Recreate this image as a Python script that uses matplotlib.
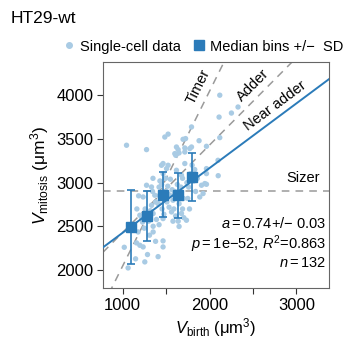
import numpy as np
import matplotlib.pyplot as plt
from matplotlib.lines import Line2D

plt.rcParams['font.family'] = 'Liberation Sans'
plt.rcParams['mathtext.fontset'] = 'custom'
plt.rcParams['mathtext.rm'] = 'Liberation Sans'
plt.rcParams['mathtext.it'] = 'Liberation Sans:italic'

# single-cell data (V_birth, V_mitosis)
vb = [1046, 1020, 1064, 1161, 1199, 1179, 1199, 1135, 1100, 1165, 1185, 1150,
      1237, 1256, 1287, 1276, 1276, 1333, 1371, 1237, 1333, 1352, 1352, 1352,
      1220, 1300, 1260, 1320, 1290, 1250, 1380, 1310, 1230, 1390, 1345, 1380,
      1409, 1466, 1466, 1448, 1506, 1486, 1524, 1466, 1524, 1466, 1466, 1420,
      1440, 1480, 1500, 1510, 1455, 1430, 1495, 1540, 1520, 1410, 1475, 1535,
      1450, 1490, 1425, 1515, 1550, 1420, 1350,
      1563, 1620, 1601, 1612, 1639, 1650, 1620, 1678, 1678, 1696, 1716, 1716,
      1716, 1580, 1600, 1625, 1650, 1670, 1590, 1640, 1700, 1570, 1610, 1660,
      1690, 1630, 1580, 1705, 1650, 1595, 1690,
      1735, 1793, 1773, 1793, 1880, 1965, 1888, 1908, 1965, 1946, 1926, 1965,
      1965, 2100, 2098, 2118, 2110, 2118, 2252, 2328, 1760, 1780, 1820, 1750,
      1800, 1840, 1770, 1830, 1860, 1740, 1725]
vm = [3428, 2262, 2026, 2312, 2285, 2437, 2628, 2520, 2495, 2700, 2850, 2130,
      2266, 2095, 2179, 3378, 2971, 2951, 2857, 2837, 2742, 2648, 2437, 2502,
      2600, 2560, 2700, 2680, 2620, 2480, 2780, 2400, 2550, 2580, 2900, 2330,
      2155, 2335, 2266, 3199, 3161, 3522, 3555, 3219, 3199, 3104, 2590, 2950,
      2880, 2820, 2900, 2780, 2700, 3020, 3050, 2860, 2960, 2760, 2640, 2720,
      2980, 2850, 2850, 2880, 3040, 2520, 3050,
      2666, 3408, 3332, 3313, 3378, 3340, 3142, 3085, 2648, 3496, 3397, 3219,
      3351, 2800, 2900, 2850, 2760, 2950, 2700, 2560, 2820, 2920, 2620, 2880,
      2700, 2980, 2560, 2600, 2500, 2860, 3050,
      2571, 3637, 3390, 3408, 3480, 3416, 2837, 2971, 2982, 2990, 2876, 3104,
      3161, 3080, 3256, 3515, 3750, 4000, 3796, 3865, 2950, 3100, 3020, 2820,
      3200, 2900, 2700, 3150, 3050, 3000, 3504]

# median bins +/- SD
bin_x = [1103, 1276, 1467, 1643, 1800]
bin_y = [2495, 2620, 2864, 2857, 3065]
bin_sd = [420, 290, 257, 255, 275]

# model lines
fit_slope, fit_icpt = 0.74, 1687
adder_delta = 1430
timer_icpt = 45
sizer_level = 2910

blue = '#2b7bb9'
light = '#a9cbe4'
dash = '#9a9a9a'

fig = plt.figure(figsize=(3.49, 3.48), dpi=100)
ax = fig.add_axes([0.295, 0.172, 0.648, 0.65])

ax.set_xlim(775, 3375)
ax.set_ylim(1795, 4380)
xx = np.array([775, 3375])

ax.plot(xx, 2 * xx + timer_icpt, ls=(0, (5, 4)), color=dash, lw=1.1, zorder=1)
ax.plot(xx, xx + adder_delta, ls=(0, (5, 4)), color=dash, lw=1.1, zorder=1)
ax.axhline(sizer_level, ls=(0, (5, 4)), color=dash, lw=1.1, zorder=1)

ax.scatter(vb, vm, s=15, color=light, edgecolor='none', zorder=2)
ax.plot(xx, fit_slope * xx + fit_icpt, color=blue, lw=1.4, zorder=3)
ax.errorbar(bin_x, bin_y, yerr=bin_sd, fmt='s', color=blue, ms=7.5,
            elinewidth=1.2, capsize=3, capthick=1.2, zorder=4)

ax.text(1870, 4100, 'Timer', rotation=63.5, ha='center', va='center', fontsize=10.5)
ax.text(2500, 4110, 'Adder', rotation=45, ha='center', va='center', fontsize=10.5)
ax.text(2760, 3880, 'Near adder', rotation=36.6, ha='center', va='center', fontsize=10.5)
ax.text(3072, 3051, 'Sizer', ha='center', va='center', fontsize=10.5)

ax.text(0.985, 0.285, r'$a$$=$0.74+/$-$ 0.03', transform=ax.transAxes,
        ha='right', va='center', fontsize=10.5)
ax.text(0.985, 0.195, r'$p$$=$1e$-$52, $R^2$=0.863', transform=ax.transAxes,
        ha='right', va='center', fontsize=10.5)
ax.text(0.985, 0.11, r'$n$$=$132', transform=ax.transAxes,
        ha='right', va='center', fontsize=10.5)

ax.set_xticks([1000, 2000, 3000])
ax.set_xticks([1500, 2500], minor=True)
ax.set_yticks([2000, 2500, 3000, 3500, 4000])
ax.tick_params(which='both', length=4, width=0.8, color='#333333', labelsize=12,
               direction='out', pad=3)
for s in ax.spines.values():
    s.set_color('#666666')
    s.set_linewidth(0.8)

ax.set_xlabel(r'$V_{\mathrm{birth}}$ ($\mathrm{\mu}$m$^3$)', fontsize=12, labelpad=2)
ax.set_ylabel(r'$V_{\mathrm{mitosis}}$ ($\mathrm{\mu}$m$^3$)', fontsize=12.5, labelpad=4)

handles = [Line2D([], [], ls='none', marker='o', ms=4, color=light),
           Line2D([], [], ls='none', marker='s', ms=7, color=blue)]
ax.legend(handles, ['Single-cell data', 'Median bins +/\u2212  SD'], loc='center',
          bbox_to_anchor=(0.44, 1.068), ncol=2, frameon=False, fontsize=10.5,
          handletextpad=0.2, columnspacing=0.8, handlelength=1.0,
          borderaxespad=0, borderpad=0)

fig.text(0.03, 0.948, 'HT29-wt', fontsize=12.5, ha='left', va='center')

fig.savefig('out.png', dpi=100)
